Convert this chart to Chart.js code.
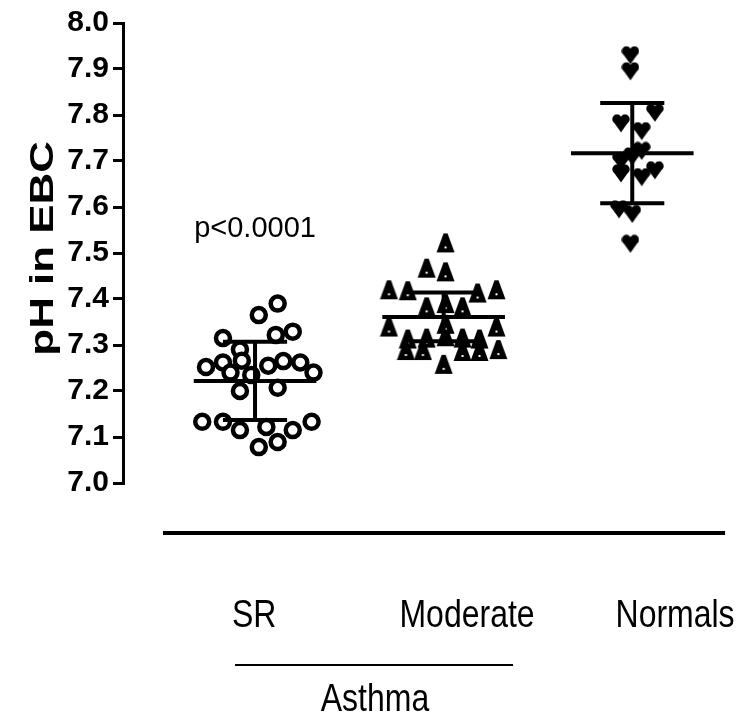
<!DOCTYPE html>
<html lang="en">
<head>
  <meta charset="UTF-8">
  <title>pH in EBC</title>
  <script src="https://cdn.jsdelivr.net/npm/chart.js"></script>
  <style>
    html, body { margin: 0; padding: 0; background: #fff; }
  </style>
</head>
<body>
  <canvas id="phChart" width="752" height="719"></canvas>

  <script>
    // groups and where they sit on the x axis
    const groups = ['SR', 'Moderate', 'Normals'];
    const groupPos = [1, 2, 3];
    const labelPos = [0.995, 2.124, 3.227];
    const yTicks = [7.0, 7.1, 7.2, 7.3, 7.4, 7.5, 7.6, 7.7, 7.8, 7.9, 8.0];

    // individual subjects (x = jittered column position, y = pH)
    const srX = [1.12, 1.02, 0.83, 1.11, 1.20, 0.92, 0.74, 0.83, 0.87, 0.93, 0.98, 1.07, 1.15,
                 1.24, 1.31, 0.92, 1.12, 0.72, 0.83, 0.92, 1.06, 1.20, 1.30, 1.02, 1.12];
    const srY = [7.39, 7.365, 7.315, 7.322, 7.329, 7.29, 7.252, 7.262, 7.24, 7.266, 7.235, 7.255, 7.265,
                 7.262, 7.24, 7.20, 7.207, 7.133, 7.133, 7.115, 7.122, 7.115, 7.133, 7.078, 7.089];

    const modX = [2.01, 1.91, 2.01, 1.71, 1.81, 2.18, 2.28, 1.91, 2.01, 2.10, 1.71, 2.28, 1.81,
                  1.91, 2.01, 2.10, 2.19, 1.80, 1.89, 2.10, 2.19, 2.29, 2.00, 2.01];
    const modY = [7.522, 7.467, 7.459, 7.420, 7.418, 7.413, 7.420, 7.383, 7.390, 7.383, 7.339, 7.339, 7.313,
                  7.315, 7.318, 7.315, 7.313, 7.288, 7.288, 7.286, 7.286, 7.290, 7.258, 7.345];

    const normX = [2.99, 2.99, 3.12, 2.94, 3.05, 3.05, 2.94, 3.00, 3.12, 2.94, 3.05, 2.93, 3.00, 2.99];
    const normY = [7.93, 7.895, 7.805, 7.782, 7.765, 7.722, 7.70, 7.71, 7.68, 7.673, 7.665, 7.595, 7.585, 7.52];

    // mean and SD per group
    const means = [7.222, 7.361, 7.717];
    const sds = [0.085, 0.053, 0.109];

    // bottom line and the "Asthma" bracket, in x units
    const baseLine = [0.512, 3.492];
    const asthmaLine = [0.894, 2.368];
    const asthmaPos = 1.636;

    function toPoints(xs, ys) {
      return xs.map((x, i) => ({ x: x, y: ys[i] }));
    }

    // marker shapes
    function triangleMarker() {
      const c = document.createElement('canvas');
      c.width = 19; c.height = 21;
      const g = c.getContext('2d');
      g.fillStyle = '#000';
      g.beginPath();
      g.moveTo(7.5, 1); g.lineTo(11.5, 1);
      g.lineTo(18.5, 20); g.lineTo(0.5, 20); g.closePath();
      g.fill();
      g.fillStyle = '#fff';
      g.fillRect(8.5, 14, 2, 2);
      return c;
    }

    function heartMarker() {
      const c = document.createElement('canvas');
      c.width = 18; c.height = 19;
      const g = c.getContext('2d');
      g.fillStyle = '#000';
      g.beginPath();
      g.arc(5, 5.2, 4.7, 0, Math.PI * 2);
      g.arc(13, 5.2, 4.7, 0, Math.PI * 2);
      g.fill();
      g.beginPath();
      g.moveTo(0.4, 6.5); g.lineTo(17.6, 6.5); g.lineTo(9, 18.5); g.closePath();
      g.fill();
      return c;
    }

    function drawText(ctx, text, x, y, font, sx, sy, align) {
      ctx.save();
      ctx.translate(x, y);
      ctx.scale(sx, sy);
      ctx.font = font;
      ctx.fillStyle = '#000';
      ctx.textAlign = align || 'center';
      ctx.textBaseline = 'alphabetic';
      ctx.fillText(text, 0, 0);
      ctx.restore();
    }

    // mean / SD bars, bottom line and labels
    const extras = {
      id: 'extras',
      afterDatasetsDraw(chart) {
        const ctx = chart.ctx;
        const xs = chart.scales.x;
        const ys = chart.scales.y;
        ctx.save();
        ctx.strokeStyle = '#000';
        ctx.lineCap = 'butt';
        groups.forEach((g, i) => {
          const cx = xs.getPixelForValue(groupPos[i]);
          const m = ys.getPixelForValue(means[i]);
          const hi = ys.getPixelForValue(means[i] + sds[i]);
          const lo = ys.getPixelForValue(means[i] - sds[i]);
          const meanL = xs.getPixelForValue(groupPos[i] - 0.325);
          const meanR = xs.getPixelForValue(groupPos[i] + 0.325);
          const capL = xs.getPixelForValue(groupPos[i] - 0.17);
          const capR = xs.getPixelForValue(groupPos[i] + 0.17);
          ctx.lineWidth = 4;
          ctx.beginPath();
          ctx.moveTo(cx, hi); ctx.lineTo(cx, lo);
          ctx.moveTo(meanL, m); ctx.lineTo(meanR, m);
          ctx.moveTo(capL, hi); ctx.lineTo(capR, hi);
          ctx.moveTo(capL, lo); ctx.lineTo(capR, lo);
          ctx.stroke();
        });
        ctx.restore();
      },
      afterDraw(chart) {
        const ctx = chart.ctx;
        const xs = chart.scales.x;
        const area = chart.chartArea;
        ctx.save();
        ctx.strokeStyle = '#000';
        // thick base line
        ctx.lineWidth = 4;
        ctx.beginPath();
        ctx.moveTo(xs.getPixelForValue(baseLine[0]), area.bottom + 50);
        ctx.lineTo(xs.getPixelForValue(baseLine[1]), area.bottom + 50);
        ctx.stroke();
        // asthma bracket
        ctx.lineWidth = 2;
        ctx.beginPath();
        ctx.moveTo(xs.getPixelForValue(asthmaLine[0]), area.bottom + 182);
        ctx.lineTo(xs.getPixelForValue(asthmaLine[1]), area.bottom + 182);
        ctx.stroke();

        groups.forEach((g, i) => {
          drawText(ctx, g, xs.getPixelForValue(labelPos[i]), area.bottom + 144,
                   '39px "Liberation Sans", Arial, sans-serif', 0.82, 1);
        });
        drawText(ctx, 'Asthma', xs.getPixelForValue(asthmaPos), area.bottom + 228,
                 '39px "Liberation Sans", Arial, sans-serif', 0.82, 1);

        // p value above SR column
        drawText(ctx, 'p<0.0001', xs.getPixelForValue(groupPos[0]), chart.scales.y.getPixelForValue(7.535),
                 '29px "Liberation Sans", Arial, sans-serif', 1, 1);

        // y axis title
        ctx.save();
        ctx.translate(53, chart.scales.y.getPixelForValue(7.51));
        ctx.rotate(-Math.PI / 2);
        drawText(ctx, 'pH in EBC', 0, 0, 'bold 33px "Liberation Sans", Arial, sans-serif', 1.33, 1);
        ctx.restore();
        ctx.restore();
      }
    };

    const chart = new Chart(document.getElementById('phChart').getContext('2d'), {
      type: 'scatter',
      data: {
        datasets: [
          {
            label: groups[0],
            data: toPoints(srX, srY),
            pointStyle: 'circle',
            pointRadius: 7,
            borderWidth: 4.5,
            borderColor: '#000',
            backgroundColor: '#fff'
          },
          {
            label: groups[1],
            data: toPoints(modX, modY),
            pointStyle: triangleMarker(),
            pointRadius: 9
          },
          {
            label: groups[2],
            data: toPoints(normX, normY),
            pointStyle: heartMarker(),
            pointRadius: 9
          }
        ]
      },
      options: {
        responsive: false,
        animation: false,
        layout: { padding: { left: 0, right: 16, top: 23, bottom: 236 } },
        plugins: {
          legend: { display: false },
          tooltip: { enabled: false }
        },
        scales: {
          x: {
            type: 'linear',
            min: 0.3,
            max: 3.55,
            display: false
          },
          y: {
            min: 7.0,
            max: 8.0,
            afterBuildTicks: (scale) => {
              scale.ticks = yTicks.map(v => ({ value: v }));
            },
            afterFit: (scale) => { scale.width = 123; },
            border: { display: true, color: '#000', width: 3 },
            grid: {
              display: true,
              drawOnChartArea: false,
              drawTicks: true,
              tickLength: 10,
              lineWidth: 3,
              color: '#000'
            },
            ticks: {
              color: '#000',
              padding: 4,
              font: { family: '"Liberation Sans", Arial, sans-serif', size: 30, weight: 'bold' },
              callback: (v) => Number(v).toFixed(1)
            }
          }
        }
      },
      plugins: [extras]
    });
  </script>
</body>
</html>
